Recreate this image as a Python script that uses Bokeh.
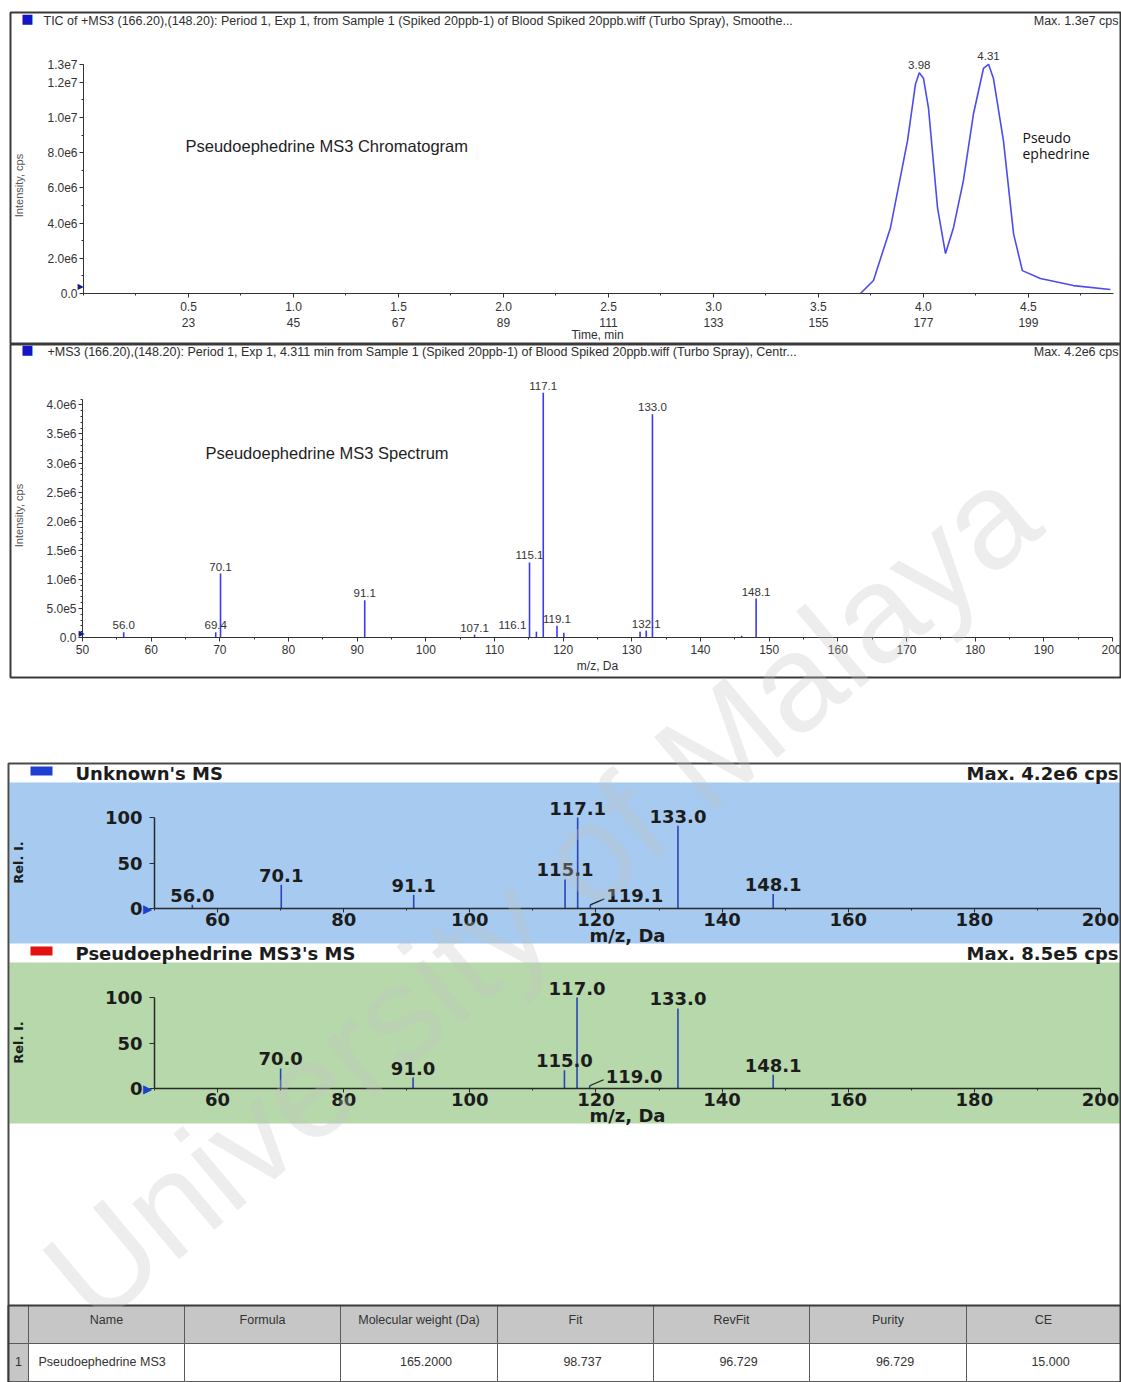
import math
from bokeh.plotting import figure
from bokeh.models import (Range1d, FixedTicker, Label, LabelSet, LinearAxis,
                          ColumnDataSource, BoxAnnotation)
from bokeh.embed import file_html
from bokeh.resources import INLINE
from bokeh.core.properties import value

PAGE_W, PAGE_H = 1121, 1382

# ---------------- data ----------------
# TIC of the MS3 transition (time in min, intensity in cps)
tic_time = [3.70, 3.762, 3.843, 3.924, 3.962, 3.98, 4.0, 4.024, 4.067, 4.105,
            4.143, 4.19, 4.238, 4.286, 4.31, 4.333, 4.381, 4.429, 4.471,
            4.557, 4.714, 4.89]
tic_int = [0.0, 0.74e6, 3.74e6, 8.67e6, 1.19e7, 1.255e7, 1.224e7, 1.054e7, 4.87e6, 2.27e6,
           3.74e6, 6.40e6, 1.02e7, 1.28e7, 1.303e7, 1.224e7, 8.67e6, 3.40e6, 1.30e6,
           0.85e6, 0.45e6, 0.23e6]
tic_peak_labels = ["3.98", "4.31"]
time_ticks = [0.5, 1.0, 1.5, 2.0, 2.5, 3.0, 3.5, 4.0, 4.5]
scan_numbers = ["23", "45", "67", "89", "111", "133", "155", "177", "199"]
tic_y_ticks = [0.0, 2.0e6, 4.0e6, 6.0e6, 8.0e6, 1.0e7, 1.2e7, 1.3e7]
tic_y_labels = ["0.0", "2.0e6", "4.0e6", "6.0e6", "8.0e6", "1.0e7", "1.2e7", "1.3e7"]

# MS3 spectrum at 4.311 min (m/z, intensity in cps)
ms_mz = [56.0, 69.4, 70.1, 91.1, 107.1, 115.1, 116.1, 117.1, 119.1, 120.1,
         131.2, 132.1, 133.0, 146.0, 148.1]
ms_int = [0.9e5, 0.9e5, 1.10e6, 6.4e5, 0.5e5, 1.29e6, 1.0e5, 4.21e6, 2.0e5, 0.8e5,
          1.0e5, 1.2e5, 3.84e6, 0.3e5, 6.7e5]
ms_labeled = ["56.0", "69.4", "70.1", "91.1", "107.1", "115.1", "116.1", "117.1",
              "119.1", "132.1", "133.0", "148.1"]
ms_mz_ticks = [50, 60, 70, 80, 90, 100, 110, 120, 130, 140, 150, 160, 170, 180, 190, 200]
ms_y_ticks = [0.0, 5.0e5, 1.0e6, 1.5e6, 2.0e6, 2.5e6, 3.0e6, 3.5e6, 4.0e6]
ms_y_labels = ["0.0", "5.0e5", "1.0e6", "1.5e6", "2.0e6", "2.5e6", "3.0e6", "3.5e6", "4.0e6"]

# library search: unknown vs. library entry (relative intensity, %)
unk_mz = [56.0, 70.1, 91.1, 115.1, 117.1, 119.1, 133.0, 148.1]
unk_rel = [4, 26, 15, 32, 100, 4, 91, 16]
lib_mz = [70.0, 91.0, 115.0, 117.0, 119.0, 133.0, 148.1]
lib_rel = [22, 12, 20, 100, 3, 88, 15]
lib_mz_ticks = [60, 80, 100, 120, 140, 160, 180, 200]
rel_ticks = [0, 50, 100]

# hit list
hit_columns = ["Name", "Formula", "Molecular weight (Da)", "Fit", "RevFit", "Purity", "CE"]
hit_row = ["Pseudoephedrine MS3", "", "165.2000", "98.737", "96.729", "96.729", "15.000"]
hit_rank = "1"

# ---------------- styles ----------------
TRACE = "#4b4bf0"
STICK = "#3a3af2"
LIB_STICK = "#2c44b4"
SKY = "#a6caf0"
GREEN = "#b6d8aa"
FRAME_LINE = "#3a3a3a"
BOX_LINE = "#4a4a4a"
HEAD = dict(text_font="Liberation Sans", text_font_size="12.5px", text_color="#2e2e2e")
SMALL = dict(text_font="Liberation Sans", text_font_size="12px", text_color="#2e2e2e")
WIDE = dict(text_font="DejaVu Sans", text_font_size="18px", text_font_style="bold",
            text_color="#1c1c1c")

# One page-sized figure; its default ranges are page pixels (y pointing down
# is stored as negative values). Every plot panel gets its own named ranges.
P = figure(width=PAGE_W, height=PAGE_H, title=None,
           x_range=Range1d(0, PAGE_W), y_range=Range1d(-PAGE_H, 0),
           output_backend="svg", toolbar_location=None,
           x_axis_location=None, y_axis_location=None,
           min_border_left=0, min_border_right=0, min_border_top=0, min_border_bottom=0)
P.grid.visible = False
P.outline_line_color = None
P.background_fill_color = "white"
P.border_fill_color = "white"

extra_x, extra_y = {}, {}


def label(px, py, text, align="left", baseline="middle", angle=0.0, **style):
    P.add_layout(Label(x=px, y=-py, text=text, angle=angle,
                       text_align=align, text_baseline=baseline, **style))


def rect(l, t, r, b, fill=None, line=None, width=1.0, level="annotation"):
    P.add_layout(BoxAnnotation(
        left=l, right=r, top=-t, bottom=-b, level=level,
        fill_color=fill, fill_alpha=1.0 if fill else 0.0,
        line_color=line, line_alpha=1.0 if line else 0.0, line_width=width))


class Panel:
    """Data ranges `xr`, `yr` shown in the page-pixel rectangle `box`."""

    def __init__(self, name, box, xr, yr):
        self.name = name
        self.bl, self.bt, self.br, self.bb = box
        self.xr, self.yr = xr, yr
        extra_x[name] = Range1d(self.X(0), self.X(PAGE_W))
        extra_y[name] = Range1d(self.Y(PAGE_H), self.Y(0))

    def X(self, px):
        return self.xr[0] + (px - self.bl) / (self.br - self.bl) * (self.xr[1] - self.xr[0])

    def Y(self, py):
        return self.yr[0] + (self.bb - py) / (self.bb - self.bt) * (self.yr[1] - self.yr[0])

    def dx(self, px):
        return px * (self.xr[1] - self.xr[0]) / (self.br - self.bl)

    def dy(self, py):
        return py * (self.yr[1] - self.yr[0]) / (self.bb - self.bt)

    @property
    def on(self):
        return dict(x_range_name=self.name, y_range_name=self.name)

    def axes(self, xticker, yticker, xbounds, ybounds, font, size, color, bold=False,
             x_tick=4, y_tick=4, x_standoff=2, y_standoff=2, line="#333333", line_width=1.0):
        xa = LinearAxis(fixed_location=self.yr[0], ticker=xticker, bounds=xbounds, **self.on)
        ya = LinearAxis(fixed_location=self.xr[0], ticker=yticker, bounds=ybounds, **self.on)
        for ax, tick, standoff in ((xa, x_tick, x_standoff), (ya, y_tick, y_standoff)):
            ax.axis_line_color = line
            ax.axis_line_width = line_width
            ax.major_tick_line_color = line
            ax.minor_tick_line_color = line
            ax.major_tick_out = tick
            ax.major_tick_in = 0
            ax.minor_tick_out = 2
            ax.minor_tick_in = 0
            ax.major_label_text_font = font
            ax.major_label_text_font_size = size
            ax.major_label_text_color = color
            ax.major_label_text_font_style = "bold" if bold else "normal"
            ax.major_label_standoff = standoff
        P.add_layout(xa, "below")
        P.add_layout(ya, "left")
        return xa, ya


# ---------------- TIC chromatogram ----------------
tic = Panel("tic", (83, 59, 1113, 293), (0, 4.905), (0, 1.33e7))
P.line(tic_time, tic_int, line_color=TRACE, line_width=1.6, **tic.on)
xa, ya = tic.axes(FixedTicker(ticks=time_ticks, minor_ticks=[0.25 * k for k in range(20)]),
                  FixedTicker(ticks=tic_y_ticks, minor_ticks=[1.0e6 * k for k in range(14)]),
                  (0, 4.905), (0, 1.3e7), "Liberation Sans", "12px", "#333333")
xa.major_label_overrides = {t: f"{t:.1f}\n{s}" for t, s in zip(time_ticks, scan_numbers)}
ya.major_label_overrides = dict(zip(tic_y_ticks, tic_y_labels))
peak_src = ColumnDataSource(dict(
    x=[float(t) for t in tic_peak_labels],
    y=[tic_int[tic_time.index(float(t))] for t in tic_peak_labels],
    text=tic_peak_labels))
P.add_layout(LabelSet(x="x", y="y", text="text", source=peak_src, y_offset=4,
                      text_align="center", text_baseline="bottom",
                      text_font=value("Liberation Sans"), text_font_size="11.5px",
                      text_color="#333333", **tic.on))
rect(10, 12, 1120, 343, line=FRAME_LINE, width=2)
label(27, 18, "\u25a0", align="center", text_font="DejaVu Sans",
      text_font_size="13px", text_color="#1414c8")
label(43, 20, "TIC of +MS3 (166.20),(148.20): Period 1, Exp 1, from Sample 1 (Spiked 20ppb-1) "
      "of Blood Spiked 20ppb.wiff (Turbo Spray), Smoothe...", **HEAD)
label(1118, 20, "Max. 1.3e7 cps", align="right", **HEAD)
label(185, 145, "Pseudoephedrine MS3 Chromatogram", text_font="Liberation Sans",
      text_font_size="16.5px", text_color="#1e1e1e")
label(1022, 137, "Pseudo", text_font="Open Sans", text_font_size="14px", text_color="#111111")
label(1022, 153, "ephedrine", text_font="Open Sans", text_font_size="14px", text_color="#111111")
label(18, 185, "Intensity, cps", align="center", angle=math.pi / 2,
      text_font="Liberation Sans", text_font_size="11px", text_color="#555555")
label(597, 334, "Time, min", align="center", **SMALL)
label(80, 286, "\u25b6", align="center", text_font="DejaVu Sans",
      text_font_size="8px", text_color="#1a1a8c")

# ---------------- MS3 spectrum ----------------
ms = Panel("ms", (82, 380, 1112, 637), (50, 200), (0, 4.42e6))
P.segment(x0=ms_mz, y0=[0.0] * len(ms_mz), x1=ms_mz, y1=ms_int,
          line_color=STICK, line_width=1.6, **ms.on)
xb, yb = ms.axes(FixedTicker(ticks=ms_mz_ticks, minor_ticks=list(range(50, 201, 5))),
                 FixedTicker(ticks=ms_y_ticks, minor_ticks=[1.0e5 * k for k in range(42)]),
                 (50, 200), (0, 4.1e6), "Liberation Sans", "12px", "#333333", x_standoff=3)
yb.major_label_overrides = dict(zip(ms_y_ticks, ms_y_labels))
ms_lookup = dict(zip(ms_mz, ms_int))
ms_shift = {"116.1": -24}
ms_src = ColumnDataSource(dict(
    x=[float(t) for t in ms_labeled],
    y=[ms_lookup[float(t)] for t in ms_labeled],
    text=ms_labeled,
    dx=[ms_shift.get(t, 0) for t in ms_labeled]))
P.add_layout(LabelSet(x="x", y="y", text="text", source=ms_src, x_offset="dx", y_offset=3,
                      text_align="center", text_baseline="bottom",
                      text_font=value("Liberation Sans"), text_font_size="11.5px",
                      text_color="#333333", **ms.on))
rect(10, 344, 1120, 677, line=FRAME_LINE, width=2)
label(27, 349, "\u25a0", align="center", text_font="DejaVu Sans",
      text_font_size="13px", text_color="#1414c8")
label(47, 351, "+MS3 (166.20),(148.20): Period 1, Exp 1, 4.311 min from Sample 1 (Spiked 20ppb-1) "
      "of Blood Spiked 20ppb.wiff (Turbo Spray), Centr...", **HEAD)
label(1118, 351, "Max. 4.2e6 cps", align="right", **HEAD)
label(205, 452, "Pseudoephedrine MS3 Spectrum", text_font="Liberation Sans",
      text_font_size="16.5px", text_color="#1e1e1e")
label(18, 515, "Intensity, cps", align="center", angle=math.pi / 2,
      text_font="Liberation Sans", text_font_size="11px", text_color="#555555")
label(597, 665, "m/z, Da", align="center", **SMALL)
label(81, 633, "\u25b6", align="center", text_font="DejaVu Sans",
      text_font_size="8px", text_color="#1a1a8c")


# ---------------- library search panels ----------------
def library_spectrum(name, band_top, band_bottom, axis_y, mz, rel, fill,
                     swatch, title, max_text):
    head_y = band_top - 9
    rect(9, band_top, PAGE_W, band_bottom, fill=fill, level="underlay")
    rect(30, head_y - 7, 52, head_y + 2, fill=swatch)
    label(75, head_y, title, **WIDE)
    label(1118, head_y, max_text, align="right", **WIDE)

    pn = Panel(name, (154, axis_y - 103, 1100, axis_y), (50, 200), (0, 113.2))
    P.segment(x0=mz, y0=[0.0] * len(mz), x1=mz, y1=rel, line_color=LIB_STICK,
              line_width=1.6, **pn.on)
    pn.axes(FixedTicker(ticks=lib_mz_ticks, minor_ticks=list(range(50, 201, 10))),
            FixedTicker(ticks=rel_ticks), (50, 200), (0, 100),
            "DejaVu Sans", "18px", "#1c1c1c", bold=True,
            x_tick=4, y_tick=5, x_standoff=0, y_standoff=7, line="#2a2a2a", line_width=1.5)
    plain = [i for i, m in enumerate(mz) if round(m) != 119]
    src = ColumnDataSource(dict(x=[mz[i] for i in plain], y=[rel[i] for i in plain],
                                text=[f"{mz[i]:.1f}" for i in plain]))
    P.add_layout(LabelSet(x="x", y="y", text="text", source=src, y_offset=3,
                          text_align="center", text_baseline="bottom",
                          text_font=value("DejaVu Sans"), text_font_size="18px",
                          text_font_style="bold", text_color="#1c1c1c", **pn.on))
    for i, m in enumerate(mz):
        if round(m) == 119:
            x1, y1 = m + pn.dx(14), rel[i] + pn.dy(6)
            P.segment(x0=[m], y0=[rel[i]], x1=[x1], y1=[y1], line_color="#1c1c1c",
                      line_width=1.2, **pn.on)
            P.add_layout(Label(x=x1 + pn.dx(2), y=y1 + pn.dy(3), text=f"{m:.1f}",
                               text_align="left", text_baseline="middle", **WIDE, **pn.on))
    label(18, axis_y - 46, "Rel. I.", align="center", angle=math.pi / 2,
          text_font="DejaVu Sans", text_font_size="13px", text_font_style="bold",
          text_color="#1c1c1c")
    label(627, axis_y + 27, "m/z, Da", align="center", **WIDE)
    label(147, axis_y, "\u25b6", align="center", text_font="DejaVu Sans",
          text_font_size="12px", text_color="#1f3fd0")


library_spectrum("unk", 782, 943, 908, unk_mz, unk_rel, SKY,
                 "#1f3fd0", "Unknown's MS", "Max. 4.2e6 cps")
library_spectrum("lib", 962, 1123, 1088, lib_mz, lib_rel, GREEN,
                 "#e01212", "Pseudoephedrine MS3's MS", "Max. 8.5e5 cps")
rect(8, 763, 1120, 1390, line=BOX_LINE, width=2)

# ---------------- hit list table ----------------
edges = [8, 28, 184, 340, 497, 653, 809, 966, 1120]
HEAD_FILL = "#c6c6c6"
GRID = "#5a5a5a"
for i in range(len(edges) - 1):
    rect(edges[i], 1305, edges[i + 1], 1343, fill=HEAD_FILL, line=GRID, width=1)
    rect(edges[i], 1343, edges[i + 1], 1381, fill=HEAD_FILL if i == 0 else "white",
         line=GRID, width=1)
rect(8, 1305, 1120, 1390, line="#3a3a3a", width=2)
TABLE_TXT = dict(text_font="Liberation Sans", text_font_size="12.5px", text_color="#333333")
for i, name in enumerate(hit_columns):
    cx = (edges[i + 1] + edges[i + 2]) / 2
    label(cx, 1319, name, align="center", **TABLE_TXT)
label((edges[0] + edges[1]) / 2, 1361, hit_rank, align="center", **TABLE_TXT)
for i, cell in enumerate(hit_row):
    if not cell:
        continue
    if i == 0:
        label(edges[1] + 10, 1361, cell, **TABLE_TXT)
    else:
        cx = (edges[i + 1] + edges[i + 2]) / 2 + 7
        label(cx, 1361, cell, align="center", **TABLE_TXT)

# faint institutional watermark across the page
label(540, 893, "University of Malaya", align="center", angle=math.radians(40),
      text_font="Liberation Sans", text_font_size="138px",
      text_color="#c4c4c4", text_alpha=0.3)

P.extra_x_ranges = extra_x
P.extra_y_ranges = extra_y

open("out.html", "w").write(file_html(P, INLINE))
